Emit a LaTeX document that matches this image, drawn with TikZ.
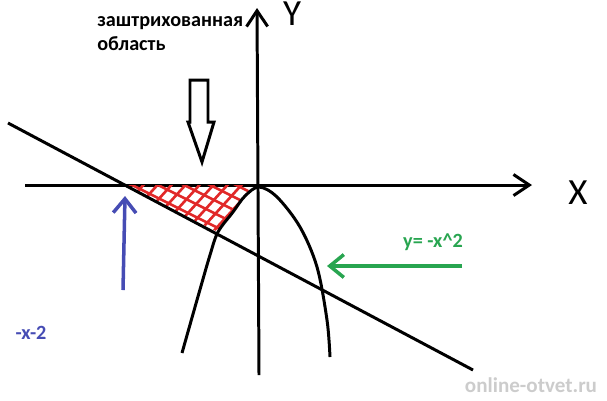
\documentclass[tikz,border=0pt]{standalone}
\usepackage{fontspec}
\setmainfont{Carlito}
\usepackage{xcolor}
\usetikzlibrary{arrows.meta}

\definecolor{hatchred}{RGB}{225,40,40}
\definecolor{markblue}{RGB}{70,76,180}
\definecolor{markgreen}{RGB}{40,165,80}

\begin{document}
\begin{tikzpicture}[
    x=0.02cm, y=-0.02cm,
    axis/.style={line width=1.7pt, black, -{Straight Barb[length=9pt, width=12pt]}},
    curve/.style={line width=1.7pt, black},
    hatch/.style={line width=1.5pt, hatchred},
    pointer/.style={line width=2pt, #1, -{Straight Barb[length=8pt, width=13pt]}},
    caption/.style={font=\bfseries\fontsize{11.5}{14}\selectfont, text=#1, inner sep=0pt},
    axislabel/.style={font=\fontsize{21}{24}\selectfont, inner sep=0pt}
]
\useasboundingbox (0,0) rectangle (607,400);

% axes
\coordinate (xstart) at (25,185);
\coordinate (xend) at (532,185);
\coordinate (ybottom) at (259,375);
\coordinate (ytop) at (257,8);
\draw[axis] (xstart) -- (xend);
\draw[axis] (ybottom) -- (ytop);
\node[axislabel] (xlab) at (578,193) {X};
\node[axislabel] (ylab) at (292,14) {Y};

% hatched area
\begin{scope}
    \clip (122,185) -- (252,185) -- (245,196) -- (233,212) -- (218,232) -- cycle;
    \foreach \c in {-70,-57,...,2} {
        \draw[hatch] (110,179+\c) -- (270,259+\c);
    }
    \foreach \s in {120,134,...,300} {
        \draw[hatch] (\s,180) -- (\s-60,246);
    }
\end{scope}

% line and parabola
\draw[curve] (8,123) -- (473,370);
\draw[curve] plot[smooth, tension=0.55] coordinates {(182,353) (197,300) (210,255) (218,232) (233,212) (245,196) (259,187) (277,197) (300,227) (317,267) (327,320) (330,357)};

% down arrow and note
\draw[line width=1.7pt] (190,80) -- (208,80) -- (208,122) -- (214,122) -- (202,162) -- (188,122) -- (190,122) -- cycle;
\node[caption=black, align=left, anchor=north west] (hatchnote) at (97,16) {заштрихованная\\область};

% blue pointer
\coordinate (bluestart) at (123,290);
\coordinate (crossing) at (125,196);
\draw[pointer=markblue] (bluestart) -- (crossing);
\node[caption=markblue] (linelab) at (31,333) {-x-2};

% green pointer
\coordinate (greenstart) at (462,266);
\coordinate (parabolapt) at (327,266);
\draw[pointer=markgreen] (greenstart) -- (parabolapt);
\node[caption=markgreen] (parablab) at (433,242) {y= -x\textasciicircum2};

\node[font=\bfseries\fontsize{12}{14}\selectfont, text=black!20] (site) at (531,385) {online-otvet.ru};

\end{tikzpicture}
\end{document}
